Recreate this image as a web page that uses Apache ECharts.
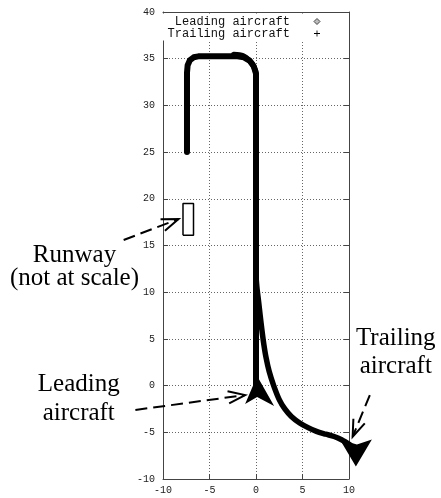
<!DOCTYPE html>
<html><head><meta charset="utf-8">
<script src="https://cdn.jsdelivr.net/npm/echarts@6/dist/echarts.min.js"></script>
<style>html,body{margin:0;padding:0;background:#fff}#c{width:441px;height:498px}</style>
</head><body><div id="c"></div>
<script>
// ---- data ----
const xTicks = [-10, -5, 0, 5, 10];
const yTicks = [-10, -5, 0, 5, 10, 15, 20, 25, 30, 35, 40];
const seriesNames = ['Leading aircraft', 'Trailing aircraft'];
const leadingX = [-7.42, -7.42, -7.35, -7.1, -6.7, -6.2, -2.0, -1.3, -0.7, -0.25, 0, 0];
const leadingY = [25, 33.5, 34.3, 34.85, 35.15, 35.25, 35.25, 35.15, 34.8, 34.2, 33.4, -0.6];
const trailingX = [-2.4, -1.4, -0.7, -0.25, 0, 0, 0.1, 0.28, 0.45, 0.63, 0.83, 1.08, 1.42, 1.9, 2.5, 3.1, 3.8, 4.7, 5.6, 6.5, 7.5, 8.4, 9.2, 10.1];
const trailingY = [35.45, 35.3, 34.8, 34.2, 33.4, 12, 10.5, 9.0, 7.5, 6.0, 4.5, 3.0, 1.5, 0, -1.5, -2.5, -3.3, -4.0, -4.5, -4.9, -5.2, -5.45, -5.8, -6.35];
const runwayX = [-7.85, -6.72, -6.72, -7.85, -7.85];
const runwayY = [16.1, 16.1, 19.5, 19.5, 16.1];
const leadingPos = [0.39, -0.58];
const trailingPos = [10.74, -7.22];
// annotation anchors (data coordinates)
const annotationTexts = [
  { text: 'Runway\n(not at scale)', at: [-19.52, 12.67], lh: 23 },
  { text: 'Leading\naircraft', at: [-19.06, -1.39], lh: 29 },
  { text: 'Trailing\naircraft', at: [15.03, 3.54], lh: 28 }
];
const annotationArrows = [
  { from: [-14.23, 15.59], to: [-8.33, 17.84] },
  { from: [-12.97, -2.61], to: [-1.17, -1.01] },
  { from: [12.24, -1.01], to: [10.39, -5.47] }
];

const zip = (a, b) => a.map((v, i) => [v, b[i]]);
const mono = 'Liberation Mono';
const serif = 'Liberation Serif';
const axisCol = '#444';

const chart = echarts.init(document.getElementById('c'), null, { renderer: 'canvas' });
const option = {
  animation: false,
  backgroundColor: '#fff',
  grid: { left: 163, right: 92, top: 12, bottom: 19, containLabel: false },
  xAxis: [
    {
      type: 'value', min: xTicks[0], max: xTicks[xTicks.length - 1], interval: 5,
      position: 'bottom',
      axisLine: { show: true, onZero: false, lineStyle: { color: axisCol, width: 1 } },
      axisTick: { show: true, inside: true, length: 5, lineStyle: { color: axisCol } },
      axisLabel: { color: '#222', fontFamily: mono, fontSize: 10, margin: 6 },
      splitLine: { show: true, lineStyle: { color: '#666', type: [1, 2], width: 1 } }
    },
    {
      type: 'value', min: xTicks[0], max: xTicks[xTicks.length - 1], interval: 5,
      position: 'top',
      axisLine: { show: true, onZero: false, lineStyle: { color: axisCol, width: 1 } },
      axisTick: { show: true, inside: true, length: 5, lineStyle: { color: axisCol } },
      axisLabel: { show: false },
      splitLine: { show: false }
    }
  ],
  yAxis: [
    {
      type: 'value', min: yTicks[0], max: yTicks[yTicks.length - 1], interval: 5,
      position: 'left',
      axisLine: { show: true, onZero: false, lineStyle: { color: axisCol, width: 1 } },
      axisTick: { show: true, inside: true, length: 5, lineStyle: { color: axisCol } },
      axisLabel: { color: '#222', fontFamily: mono, fontSize: 10, margin: 8 },
      splitLine: { show: true, lineStyle: { color: '#666', type: [1, 2], width: 1 } }
    },
    {
      type: 'value', min: yTicks[0], max: yTicks[yTicks.length - 1], interval: 5,
      position: 'right',
      axisLine: { show: true, onZero: false, lineStyle: { color: axisCol, width: 1 } },
      axisTick: { show: true, inside: true, length: 5, lineStyle: { color: axisCol } },
      axisLabel: { show: false },
      splitLine: { show: false }
    }
  ],
  legend: {
    orient: 'vertical',
    left: 163, top: 13.5,
    padding: [2, 4, 1, 4],
    backgroundColor: '#fff',
    align: 'right',
    itemGap: 0,
    itemWidth: 6, itemHeight: 6,
    selectedMode: false,
    formatter: name => '{t|' + name + '}',
    textStyle: {
      fontFamily: mono, fontSize: 12, color: '#111', lineHeight: 11,
      rich: { t: { width: 123, align: 'right', padding: [0, 19, 0, 0], fontFamily: mono, fontSize: 12, lineHeight: 11, color: '#111' } }
    },
    data: [
      { name: seriesNames[0], icon: 'diamond', itemStyle: { color: '#bbb', borderColor: '#444', borderWidth: 1 } },
      { name: seriesNames[1], icon: 'path://M3,0H4V3H7V4H4V7H3V4H0V3H3Z', itemStyle: { color: '#000' } }
    ]
  },
  series: [
    {
      name: seriesNames[0], type: 'line', data: zip(leadingX, leadingY),
      showSymbol: false, symbol: 'none', clip: false, z: 3,
      lineStyle: { color: '#000', width: 6, cap: 'round', join: 'round' },
      itemStyle: { color: '#000' }
    },
    {
      name: seriesNames[1], type: 'line', data: zip(trailingX, trailingY),
      showSymbol: false, symbol: 'none', clip: false, z: 3,
      smooth: 0.3,
      lineStyle: { color: '#000', width: 5.5, cap: 'round', join: 'round' },
      itemStyle: { color: '#000' }
    },
    {
      name: 'Runway', type: 'line', data: zip(runwayX, runwayY),
      showSymbol: false, symbol: 'none', z: 3,
      lineStyle: { color: '#000', width: 1.5 }
    },
    {
      name: 'Leading marker', type: 'scatter', data: [leadingPos], clip: false, z: 4,
      symbol: 'path://M12,0 L29,30 L12,21 L0,28 Z', symbolSize: [29, 30],
      itemStyle: { color: '#000', opacity: 1 }
    },
    {
      name: 'Trailing marker', type: 'scatter', data: [trailingPos], clip: false, z: 4,
      symbol: 'path://M0,0 L17,5 L32,0 L16,27 Z', symbolSize: [32, 27],
      itemStyle: { color: '#000', opacity: 1 }
    }
  ]
};
chart.setOption(option);

// annotations converted from data coordinates
const px = p => chart.convertToPixel({ xAxisIndex: 0, yAxisIndex: 0 }, p);
const graphics = [];
annotationTexts.forEach(a => {
  const p = px(a.at);
  graphics.push({
    type: 'text', x: p[0], y: p[1], z: 10,
    style: { text: a.text, fontFamily: serif, fontSize: 25, lineHeight: a.lh, fill: '#000', align: 'center', verticalAlign: 'middle' }
  });
});
const HEAD = 18, ANG = 20 * Math.PI / 180;
annotationArrows.forEach(a => {
  const s = px(a.from), t = px(a.to);
  const dx = s[0] - t[0], dy = s[1] - t[1];
  const len = Math.hypot(dx, dy);
  const ux = dx / len, uy = dy / len;
  const rot = (ang) => [t[0] + HEAD * (ux * Math.cos(ang) - uy * Math.sin(ang)), t[1] + HEAD * (ux * Math.sin(ang) + uy * Math.cos(ang))];
  graphics.push({
    type: 'polyline', z: 10, shape: { points: [s, t] },
    style: { stroke: '#000', lineWidth: 2, lineDash: [12, 6], fill: null }
  });
  graphics.push({
    type: 'polyline', z: 10, shape: { points: [rot(ANG), t, rot(-ANG)] },
    style: { stroke: '#000', lineWidth: 2, fill: null }
  });
});
chart.setOption({ graphic: graphics });
</script>
</body></html>
